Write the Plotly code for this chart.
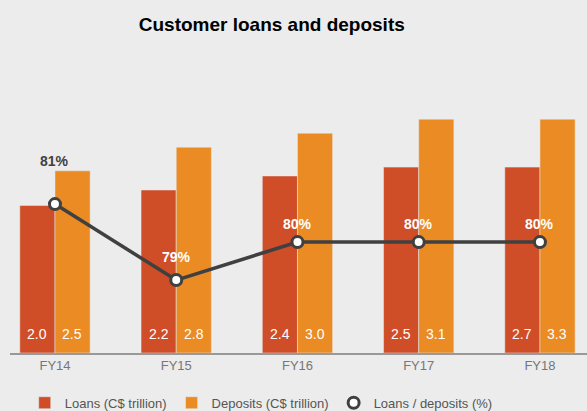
import plotly.graph_objects as go

# Chart data
years = ['FY14', 'FY15', 'FY16', 'FY17', 'FY18']
loans = [2.0, 2.21, 2.40, 2.52, 2.52]            # bar heights as drawn
deposits = [2.47, 2.79, 2.98, 3.17, 3.17]
loans_text = ['2.0', '2.2', '2.4', '2.5', '2.7']  # printed labels
deposits_text = ['2.5', '2.8', '3.0', '3.1', '3.3']
ratio = [81, 79, 80, 80, 80]
ratio_text = ['81%', '79%', '80%', '80%', '80%']

colors = {
    'bg': '#ECECEC',
    'loans': '#D04E27',
    'deposits': '#EA8B24',
    'line': '#404040',
    'tick': '#777777',
    'legend': '#555555'
}
font = 'Liberation Sans, Arial, sans-serif'

fig = go.Figure()
fig.add_trace(go.Bar(
    x=years, y=loans, name='Loans (C$ trillion)',
    marker_color=colors['loans']
))
fig.add_trace(go.Bar(
    x=years, y=deposits, name='Deposits (C$ trillion)',
    marker_color=colors['deposits']
))
fig.add_trace(go.Scatter(
    x=years, y=ratio, yaxis='y2', mode='lines+markers',
    line=dict(color=colors['line'], width=3.5),
    marker=dict(size=11, color='white', line=dict(color=colors['line'], width=3)),
    showlegend=False
))
# legend entry: marker only
fig.add_trace(go.Scatter(
    x=[None], y=[None], yaxis='y2', mode='markers', name='Loans / deposits (%)',
    marker=dict(size=11, color='white', line=dict(color=colors['line'], width=3))
))

# value labels at the bottom of each bar
for yr, lt, dt in zip(years, loans_text, deposits_text):
    for txt, dx in ((lt, -17.5), (dt, 17.5)):
        fig.add_annotation(
            x=yr, y=0, text=txt, showarrow=False, xshift=dx, yshift=19,
            font=dict(size=14, color='white', family=font)
        )

# percentage labels above the line points
shifts = [43, 23, 18, 18, 18]
for i, (yr, r, t) in enumerate(zip(years, ratio, ratio_text)):
    fig.add_annotation(
        x=yr, y=r, yref='y2', text='<b>%s</b>' % t, showarrow=False,
        yshift=shifts[i],
        font=dict(size=14, family=font,
                  color=colors['line'] if i == 0 else 'white')
    )

fig.update_layout(
    width=587, height=411,
    paper_bgcolor=colors['bg'], plot_bgcolor=colors['bg'],
    font=dict(family=font),
    title=dict(text='<b>Customer loans and deposits</b>', x=0.463, xanchor='center',
               y=0.94, yanchor='middle', font=dict(size=19, color='black', family=font)),
    barmode='group', bargap=0.42, bargroupgap=0,
    margin=dict(l=10, r=0, t=100, b=58),
    xaxis=dict(range=[-0.371, 4.388], showline=True, linecolor='#999999', linewidth=1.5,
               ticks='', tickfont=dict(size=13, color=colors['tick'], family=font),
               showgrid=False),
    yaxis=dict(range=[0, 3.43], visible=False, showgrid=False, zeroline=False),
    yaxis2=dict(range=[77.08, 83.74], overlaying='y', visible=False, showgrid=False,
                zeroline=False),
    legend=dict(orientation='h', xref='container', yref='container',
                x=0.445, xanchor='center', y=0.02, yanchor='middle',
                font=dict(size=13, color=colors['legend'], family=font),
                itemwidth=30, traceorder='normal'),
    showlegend=True
)

# drop the default page margin so the figure sits at the window's corner
fig.write_html("out.html", config={'displayModeBar': False},
               post_script="document.body.style.margin='0';")
